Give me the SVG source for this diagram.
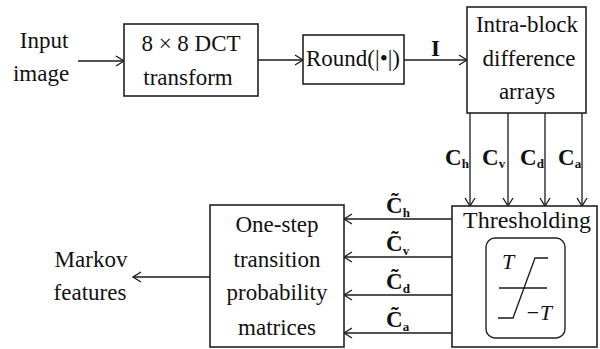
<svg xmlns="http://www.w3.org/2000/svg" width="600" height="349" viewBox="0 0 600 349">
<defs>
<marker id="ah" viewBox="-9 -6 11 12" markerWidth="11" markerHeight="12" refX="0" refY="0" orient="auto" markerUnits="userSpaceOnUse">
<path d="M-8,-5 L0,0 L-8,5" fill="none" stroke="#1a1a1a" stroke-width="1.3"/>
</marker>
<style>
text{font-family:'Liberation Serif',serif}
.t{font-size:23px;fill:#111;text-anchor:middle}
.b{font-weight:bold;font-size:23px;fill:#111}
.s{font-size:13px}
.i{font-style:italic;font-size:22px;fill:#111}
.box{fill:#fff;stroke:#222;stroke-width:1.6}
.ln{fill:none;stroke:#1a1a1a;stroke-width:1.3}
.ar{fill:none;stroke:#1a1a1a;stroke-width:1.3;marker-end:url(#ah)}
</style>
</defs>
<rect width="600" height="349" fill="#fff"/>
<g id="connectors">
<line class="ar" x1="78" y1="61" x2="124" y2="61"/>
<line class="ar" x1="258" y1="60" x2="303" y2="60"/>
<line class="ar" x1="404" y1="60" x2="467" y2="60"/>
<line class="ar" x1="470" y1="113" x2="470" y2="206"/>
<line class="ar" x1="508" y1="113" x2="508" y2="206"/>
<line class="ar" x1="545" y1="113" x2="545" y2="206"/>
<line class="ar" x1="582" y1="113" x2="582" y2="206"/>
<line class="ar" x1="452" y1="219" x2="344" y2="219"/>
<line class="ar" x1="452" y1="257" x2="344" y2="257"/>
<line class="ar" x1="452" y1="295" x2="344" y2="295"/>
<line class="ar" x1="452" y1="333" x2="344" y2="333"/>
<line class="ar" x1="210" y1="277" x2="133" y2="277"/>
<text class="b" x="431" y="56" font-family="Liberation Serif, serif">I</text>
<text class="b" x="445" y="165">C<tspan class="s" dy="3">h</tspan></text>
<text class="b" x="482" y="165">C<tspan class="s" dy="3">v</tspan></text>
<text class="b" x="520" y="165">C<tspan class="s" dy="3">d</tspan></text>
<text class="b" x="558" y="165">C<tspan class="s" dy="3">a</tspan></text>
<text class="b" x="386" y="213">C̃<tspan class="s" dy="4">h</tspan></text>
<text class="b" x="386" y="251">C̃<tspan class="s" dy="4">v</tspan></text>
<text class="b" x="386" y="289">C̃<tspan class="s" dy="4">d</tspan></text>
<text class="b" x="386" y="327">C̃<tspan class="s" dy="4">a</tspan></text>
</g>
<g id="input">
<text class="t" x="44" y="48">Input</text>
<text class="t" x="41" y="81">image</text>
</g>
<g id="dct">
<rect class="box" x="124" y="24" width="134" height="72"/>
<text class="t" x="191" y="51">8 × 8 DCT</text>
<text class="t" x="188" y="85">transform</text>
</g>
<g id="round">
<rect class="box" x="303" y="35" width="101" height="49"/>
<text class="t" x="353" y="66">Round(|•|)</text>
</g>
<g id="intra">
<rect class="box" x="467" y="7" width="119" height="106"/>
<text class="t" x="527" y="32">Intra-block</text>
<text class="t" x="529" y="66">difference</text>
<text class="t" x="527" y="99">arrays</text>
</g>
<g id="thresholding">
<rect class="box" x="452" y="206" width="145" height="141"/>
<text class="t" x="527" y="228" style="font-size:24px">Thresholding</text>
<rect x="486" y="238" width="79" height="100" rx="9" fill="none" stroke="#222" stroke-width="1.4"/>
<line class="ln" x1="499" y1="288" x2="547" y2="288"/>
<polyline class="ln" points="498,318 513,318 535,258 548,258"/>
<text class="i" x="502" y="269">T</text>
<text class="i" x="525" y="320">−T</text>
</g>
<g id="onestep">
<rect class="box" x="210" y="205" width="134" height="142"/>
<text class="t" x="277" y="232">One-step</text>
<text class="t" x="277" y="267">transition</text>
<text class="t" x="277" y="300">probability</text>
<text class="t" x="277" y="335">matrices</text>
</g>
<g id="markov">
<text class="t" x="91" y="267">Markov</text>
<text class="t" x="90" y="300">features</text>
</g>
</svg>
